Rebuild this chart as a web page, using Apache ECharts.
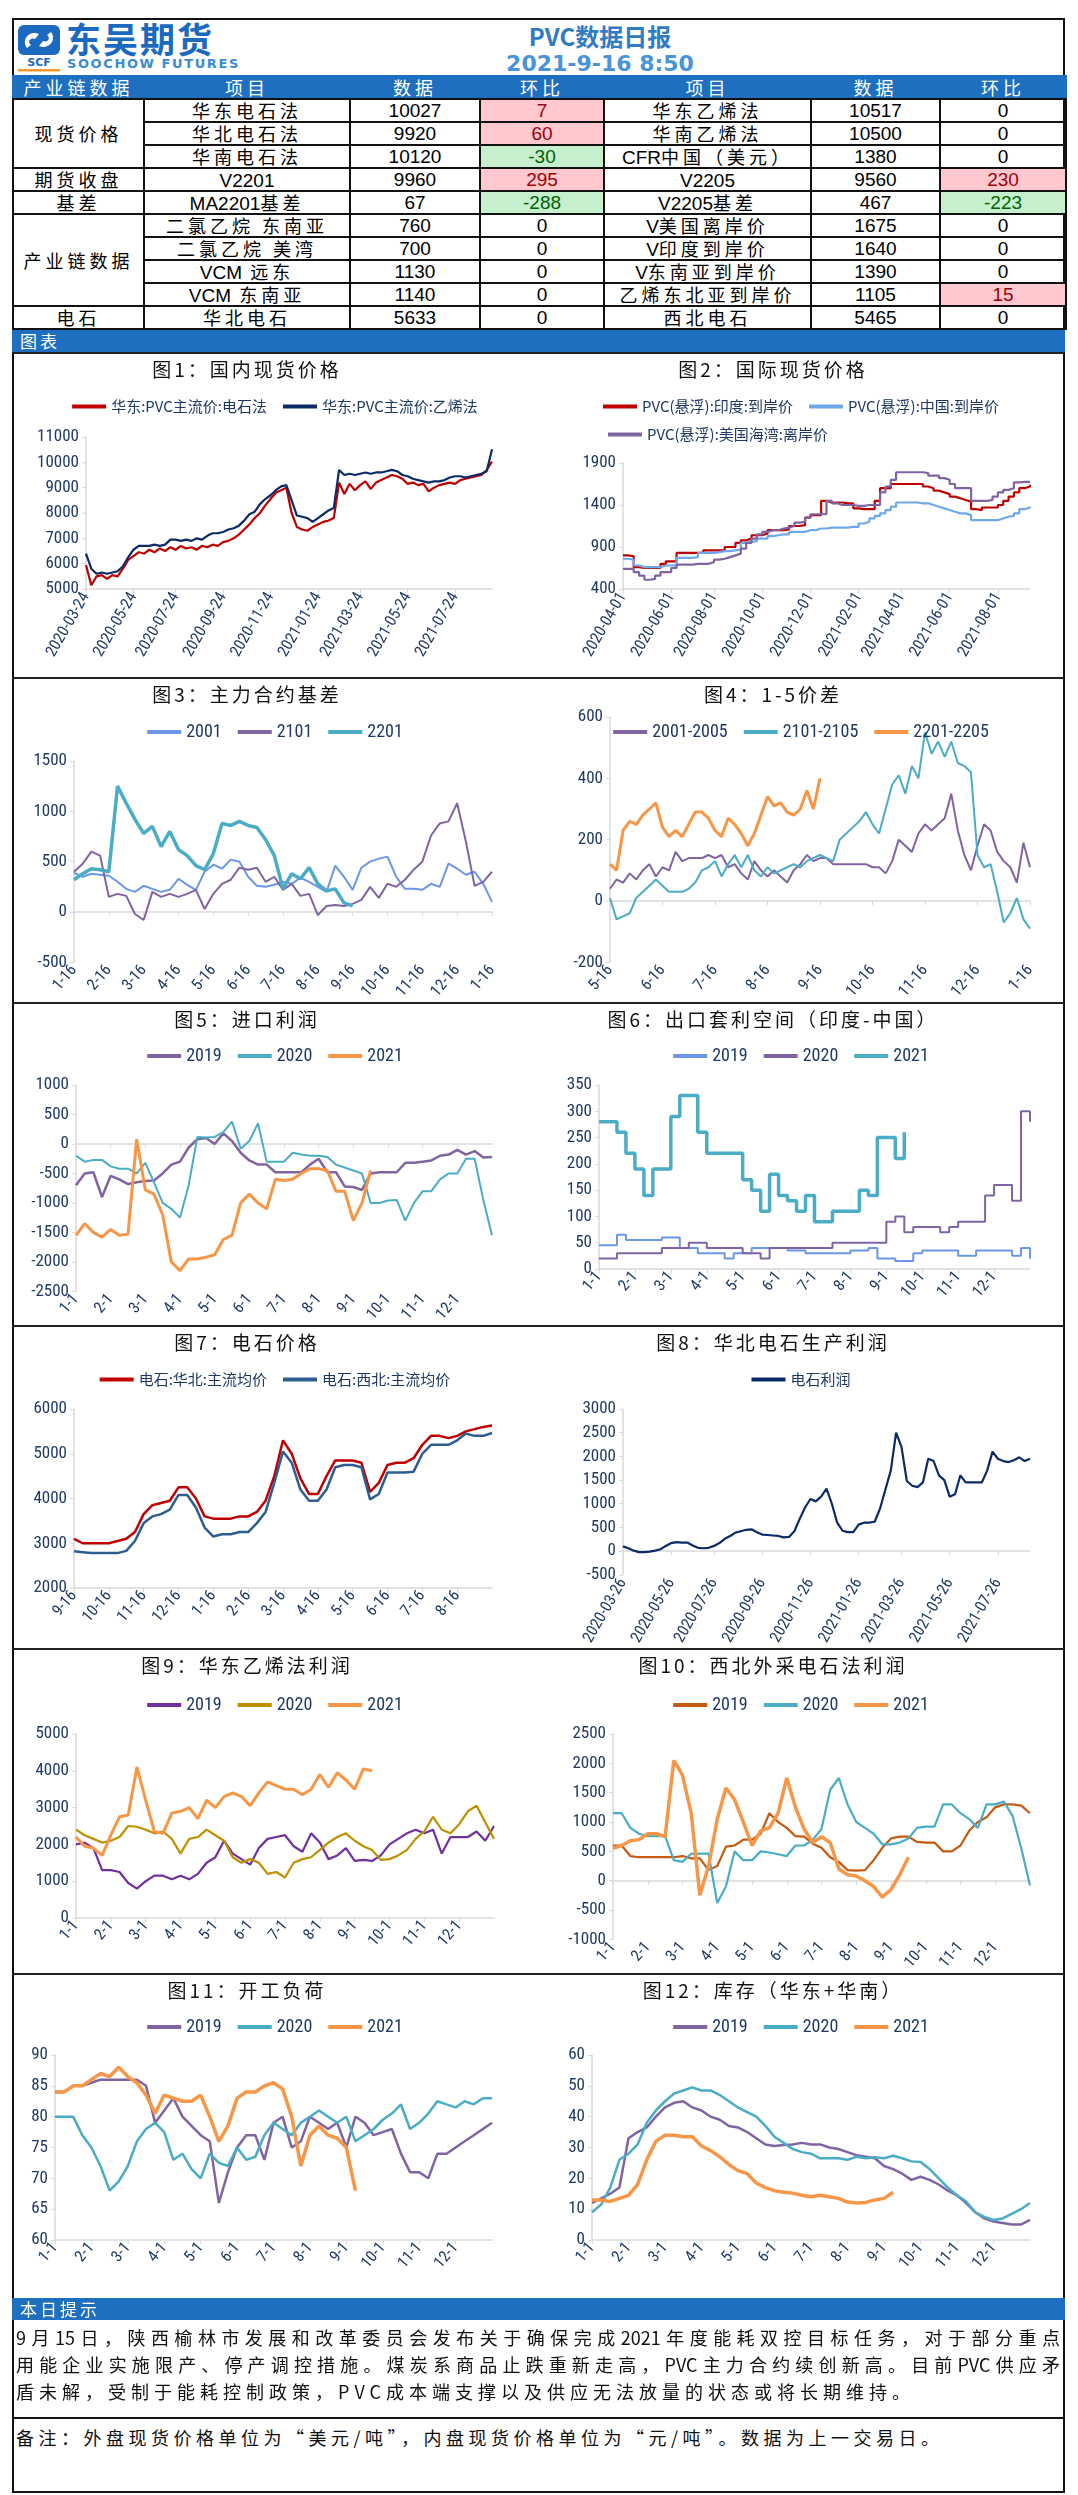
<!DOCTYPE html>
<html>
<head>
<meta charset="UTF-8">
<title>PVC数据日报</title>
<script src="https://cdn.jsdelivr.net/npm/echarts@6/dist/echarts.min.js"></script>
<style>
  body { margin: 0; background: #fff; font-family: 'Noto Sans CJK SC', sans-serif; }
  #page { position: relative; width: 1078px; height: 2495px; overflow: hidden; }
  .abs { position: absolute; }
  #frame { left: 12px; top: 18px; width: 1053px; height: 2475px; border: 2px solid #111; box-sizing: border-box; }
  .bar { background: #1e6fc0; color: #fff; font-size: 17px; letter-spacing: 3px; line-height: 22px; padding-left: 8px; box-sizing: border-box; }
  table.data { border-collapse: collapse; table-layout: fixed; }
  table.data td { border: 2px solid #111; text-align: center; padding: 0; font-size: 18px; line-height: 21px; letter-spacing: 4px; white-space: nowrap; vertical-align: middle; }
  table.data td .c { height: 21px; line-height: 21px; overflow: hidden; }
  table.data td .lat { letter-spacing: 0; font-family: 'Liberation Sans', sans-serif; font-size: 19px; line-height: 1; }
  table.data td.num { font-family: 'Liberation Sans', sans-serif; font-size: 19px; letter-spacing: 0; }
  table.data tr.head td { background: #1e6fc0; color: #fff; border-color: #1e6fc0 #1e6fc0 #111 #1e6fc0; }
  td.up { background: #ffc7ce; color: #9c0006; }
  td.down { background: #c6efce; color: #006100; }
  .panel { border-top: 2px solid #222; box-sizing: border-box; }
  .ptitle { position: absolute; left: 0; width: 470px; top: 2px; text-align: center; font-size: 19px; letter-spacing: 3px; color: #111; line-height: 26px; z-index: 2; }
  .chart { position: absolute; left: 0; top: 0; }
  .note { font-size: 18px; color: #111; }
  .line { text-align: justify; text-align-last: justify; height: 27px; line-height: 27px; }
</style>
</head>
<body>
<div id="page">
  <div id="frame" class="abs"></div>

  <!-- logo -->
  <svg class="abs" style="left:17px;top:24px" width="44" height="48" viewBox="0 0 44 48">
    <rect x="1" y="1" width="42" height="30" rx="6" fill="#1b6ac0"/>
    <path d="M10 24 C4 16 12 6 22 10 L18 15 C13 13 10 18 14 21 Z" fill="#fff"/>
    <path d="M34 8 C40 16 32 26 22 22 L26 17 C31 19 34 14 30 11 Z" fill="#fff"/>
    <text x="22" y="42" text-anchor="middle" font-family="DejaVu Sans" font-weight="bold" font-size="11" fill="#1b6ac0">SCF</text>
    <rect x="1" y="45" width="42" height="2.5" fill="#f39a2b"/>
  </svg>
  <div class="abs" style="left:66px;top:17px;font-size:35px;font-weight:bold;color:#1b6ac0;letter-spacing:2px;line-height:42px">东吴期货</div>
  <div class="abs" style="left:67px;top:56px;font-size:13px;font-weight:bold;color:#3b8ad4;letter-spacing:1.6px;font-family:'DejaVu Sans',sans-serif">SOOCHOW FUTURES</div>
  <div class="abs" style="left:500px;top:21px;width:200px;text-align:center;font-size:24px;font-weight:bold;color:#2f7bc4;line-height:30px">PVC数据日报</div>
  <div class="abs" style="left:500px;top:51px;width:200px;text-align:center;font-size:22px;font-weight:bold;color:#4a93d8;line-height:26px;font-family:'DejaVu Sans',sans-serif">2021-9-16 8:50</div>

  <table id="tbl" class="data abs" style="left:12px;top:75px;width:1053px"></table>
  <div class="abs bar" style="left:12px;top:330px;width:1053px;height:22px">图表</div>

  <div id="panels"></div>

  <div class="abs bar" style="left:12px;top:2298px;width:1053px;height:22px">本日提示</div>
  <div class="abs note" style="left:16px;top:2324px;width:1044px">
    <div class="line">9月15日，陕西榆林市发展和改革委员会发布关于确保完成2021年度能耗双控目标任务，对于部分重点</div>
    <div class="line">用能企业实施限产、停产调控措施。煤炭系商品止跌重新走高，PVC主力合约续创新高。目前PVC供应矛</div>
    <div style="height:27px;line-height:27px;letter-spacing:5px">盾未解，受制于能耗控制政策，PVC成本端支撑以及供应无法放量的状态或将长期维持。</div>
  </div>
  <div class="abs" style="left:12px;top:2417px;width:1053px;border-top:2px solid #111"></div>
  <div class="abs note" style="left:16px;top:2424px;letter-spacing:4.5px;line-height:26px">备注：外盘现货价格单位为“美元/吨”，内盘现货价格单位为“元/吨”。数据为上一交易日。</div>
</div>

<script>
// ---------- table data ----------
var tableHead = ['产业链数据', '项目', '数据', '环比', '项目', '数据', '环比'];
var tableColWidths = [131, 206, 130, 124, 207, 129, 126];
var leftGroups = [['现货价格', 3], ['期货收盘', 1], ['基差', 1], ['产业链数据', 4], ['电石', 1]];
var leftItems = ['华东电石法', '华北电石法', '华南电石法', 'V2201', 'MA2201基差', '二氯乙烷 东南亚', '二氯乙烷 美湾', 'VCM 远东', 'VCM 东南亚', '华北电石'];
var leftValues = [10027, 9920, 10120, 9960, 67, 760, 700, 1130, 1140, 5633];
var leftChanges = [7, 60, -30, 295, -288, 0, 0, 0, 0, 0];
var rightItems = ['华东乙烯法', '华南乙烯法', 'CFR中国（美元）', 'V2205', 'V2205基差', 'V美国离岸价', 'V印度到岸价', 'V东南亚到岸价', '乙烯东北亚到岸价', '西北电石'];
var rightValues = [10517, 10500, 1380, 9560, 467, 1675, 1640, 1390, 1105, 5465];
var rightChanges = [0, 0, 0, 230, -223, 0, 0, 0, 15, 0];

// ---------- chart data ----------
// 图1 国内现货价格 (weekly from 2020-03-24)
var c1Start = '2020-03-24';
var c1Ticks = ['2020-03-24', '2020-05-24', '2020-07-24', '2020-09-24', '2020-11-24', '2021-01-24', '2021-03-24', '2021-05-24', '2021-07-24'];
var c1Carbide = [5950,5150,5500,5550,5400,5550,5500,5800,6150,6300, 6450,6400,6550,6450,6600,6500,6650,6550,6700,6600, 6650,6550,6700,6650,6750,6700,6850,6900,7000,7150, 7350,7550,7800,8000,8300,8550,8800,8900,9000,8000, 7450,7350,7300,7450,7550,7650,7700,7800,9200,8750, 9150,8900,9100,9250,8950,9200,9300,9400,9500,9450, 9350,9150,9200,9100,9150,8850,9000,9100,9150,9200, 9150,9300,9350,9400,9450,9500,9700,10027];
var c1Ethylene = [6400,5800,5600,5650,5600,5650,5700,5900,6250,6550, 6700,6700,6700,6750,6700,6750,6950,6950,6900,6950, 6900,7000,6950,7100,7200,7200,7250,7350,7400,7500, 7700,7950,8050,8350,8550,8700,8900,9050,9100,8500, 7900,7850,7800,7650,7800,7950,8100,8200,9700,9500, 9550,9500,9550,9600,9550,9600,9600,9650,9700,9650, 9500,9450,9350,9300,9250,9200,9250,9250,9300,9400, 9450,9450,9400,9450,9500,9550,9650,10517];

// 图2 国际现货价格 (weekly from 2020-04-01)
var c2Start = '2020-04-01';
var c2Ticks = ['2020-04-01', '2020-06-01', '2020-08-01', '2020-10-01', '2020-12-01', '2021-02-01', '2021-04-01', '2021-06-01', '2021-08-01'];
var c2India = [800,790,660,650,650,650,650,700,730,730, 830,830,830,830,830,860,860,860,860,900, 900,950,980,1000,1040,1040,1060,1100,1100,1100, 1110,1150,1150,1160,1250,1280,1280,1450,1430,1430, 1430,1420,1420,1360,1350,1350,1350,1450,1600,1600, 1650,1650,1650,1650,1650,1650,1620,1600,1570,1550, 1530,1500,1480,1460,1440,1350,1340,1370,1370,1370, 1400,1450,1500,1550,1600,1620,1640];
var c2China = [760,750,680,660,660,660,660,680,680,680, 770,770,770,780,830,830,830,840,850,850, 860,870,950,960,970,1000,1000,1030,1040,1050, 1050,1080,1080,1080,1100,1100,1120,1120,1130,1130, 1130,1130,1140,1140,1180,1200,1240,1270,1300,1340, 1380,1430,1430,1430,1430,1420,1420,1400,1380,1360, 1340,1320,1300,1300,1280,1220,1220,1220,1220,1220, 1240,1260,1270,1300,1350,1370,1380];
var c2UsGulf = [640,640,600,560,510,520,560,600,600,650, 690,690,690,700,700,700,720,750,760,780, 800,820,880,950,1000,1050,1080,1100,1100,1120, 1130,1150,1190,1200,1250,1290,1290,1290,1450,1420, 1400,1400,1400,1390,1390,1400,1400,1400,1550,1620, 1700,1790,1790,1790,1790,1790,1780,1750,1750,1720, 1700,1650,1600,1600,1600,1450,1450,1450,1460,1500, 1550,1580,1600,1670,1675,1675,1675];

// 图3 主力合约基差 (1-16 .. 1-16)
var c3_2001 = [390,350,380,370,360,300,230,200,260,230, 200,220,330,270,220,400,470,430,520,500, 350,260,250,270,300,280,340,300,250,200, 460,350,220,440,500,530,550,350,230,230, 220,280,250,480,430,370,400,280,100];
var c3_2101 = [400,480,600,560,150,180,160,-20,-80,200, 150,180,150,180,220,30,180,280,320,440, 420,440,300,350,220,280,160,180,-30,60, 70,60,80,120,250,140,280,250,320,420, 500,760,880,900,1080,700,260,300,400];
var c3_2201 = [320,380,430,420,400,1250,1080,920,780,850, 650,800,620,560,460,420,580,880,860,900, 860,840,720,560,230,380,330,440,280,210, 230,90,60];

// 图4 1-5价差 (5-16 .. 1-16)
var c4_2001_2005 = [40,70,60,90,70,100,120,80,110,100, 160,130,140,140,140,150,140,150,110,120, 90,70,130,100,80,100,80,60,100,120, 150,130,140,140,120,120,120,120,120,120, 110,110,90,130,200,180,160,220,250,230, 250,270,350,230,150,100,180,250,230,160, 130,110,60,190,110];
var c4_2101_2105 = [10,-60,-50,-40,10,30,50,70,50,30, 30,30,40,60,100,110,130,80,120,150, 110,150,100,80,110,90,100,110,120,110, 130,140,150,140,130,200,220,240,260,290, 250,220,300,380,410,350,440,400,550,480, 520,470,520,450,440,420,150,110,120,30, -70,-40,10,-60,-90];
var c4_2201_2205 = [120,100,230,260,250,280,300,320,240,210, 230,210,250,290,290,270,230,210,270,250, 220,180,220,280,340,310,320,290,280,300, 360,300,400];

// 图5 进口利润
var c5_2019 = [-700,-500,-480,-900,-540,-600,-680,-650,-630,-620, -500,-350,-300,-60,80,100,0,180,50,-150, -280,-350,-350,-480,-480,-480,-480,-350,-250,-480, -480,-720,-730,-780,-500,-480,-480,-480,-320,-320, -300,-280,-200,-180,-100,-180,-120,-230,-220];
var c5_2020 = [-200,-300,-270,-270,-380,-420,-420,-500,-320,-650, -1000,-1100,-1250,-700,120,110,120,200,380,-80, 50,350,-300,-300,-300,-150,-180,-200,-200,-220, -350,-400,-450,-500,-1000,-1000,-960,-950,-1300,-1000, -800,-800,-600,-500,-500,-250,-250,-950,-1550];
var c5_2021 = [-1550,-1350,-1500,-1580,-1450,-1550,-1530,80,-780,-850, -1200,-2000,-2150,-1950,-1950,-1920,-1880,-1620,-1550,-1000, -850,-1000,-1100,-600,-620,-600,-500,-420,-420,-450, -800,-800,-1300,-1000,-450];

// 图6 出口套利空间
var c6_2019 = [45,45,65,55,55,55,55,60,60,40, 40,30,30,30,20,30,30,40,40,40, 40,35,35,30,30,30,30,30,35,35, 40,20,20,15,15,30,35,35,35,35, 25,25,35,35,35,35,25,40,20];
var c6_2020 = [20,20,30,30,30,30,30,40,40,40, 50,50,40,40,40,40,30,30,20,40, 40,40,40,40,40,40,50,50,50,50, 50,50,90,100,70,80,80,80,70,80, 90,90,90,140,160,160,130,300,280];
var c6_2021 = [280,280,260,220,190,140,190,190,290,330, 330,260,220,220,220,220,170,150,110,180, 140,130,110,140,90,90,110,110,110,150, 140,250,250,210,260];

// 图7 电石价格 (9-16 .. 9-15)
var c7North = [3100,3000,3000,3000,3000,3050,3100,3250,3650,3850, 3900,3950,4250,4250,4000,3600,3550,3550,3550,3600, 3600,3700,3950,4500,5300,5000,4450,4100,4100,4500, 4850,4850,4850,4800,4150,4350,4750,4800,4800,4900, 5200,5400,5400,5350,5400,5500,5550,5600,5633];
var c7Northwest = [2820,2800,2780,2780,2780,2780,2830,3050,3450,3600, 3650,3750,4080,4080,3800,3350,3150,3200,3200,3250, 3250,3450,3700,4350,5050,4800,4200,3950,3950,4200, 4700,4750,4750,4700,3980,4100,4580,4580,4580,4600, 5000,5200,5200,5200,5300,5450,5400,5400,5465];

// 图8 华北电石生产利润 (weekly from 2020-03-26)
var c8Start = '2020-03-26';
var c8Ticks = ['2020-03-26', '2020-05-26', '2020-07-26', '2020-09-26', '2020-11-26', '2021-01-26', '2021-03-26', '2021-05-26', '2021-07-26'];
var c8Profit = [100,60,10,-20,-20,-10,10,40,110,170, 190,180,180,120,70,60,70,110,170,260, 320,390,420,450,460,400,350,340,330,320, 290,300,420,680,920,1100,1050,1150,1320,1000, 600,430,400,400,560,600,600,620,900,1300, 1700,2500,2200,1480,1380,1350,1450,1950,1900,1600, 1500,1150,1200,1600,1450,1450,1450,1450,1700,2100, 1950,1900,1880,1920,1980,1900,1950];

// 图9 华东乙烯法利润
var c9_2019 = [2000,2050,1900,1300,1300,1250,950,800,1000,1150, 1150,1050,1150,1050,1200,1500,1650,2100,1750,1600, 1450,1900,2150,2200,2250,1950,1800,2300,2050,1600, 1700,1900,1550,1580,1550,1700,2000,2150,2300,2400, 2300,2400,1750,2200,2200,2200,2350,2100,2500];
var c9_2020 = [2400,2250,2150,2050,2100,2200,2500,2480,2400,2300, 2350,2150,1750,2150,2200,2400,2250,2100,1650,1500, 1600,1500,1200,1250,1100,1500,1600,1650,1850,2050, 2200,2300,2100,1950,1850,1580,1600,1700,1850,2150, 2350,2750,2400,2300,2550,2900,3050,2600,2150];
var c9_2021 = [2200,1950,1900,1700,2250,2750,2800,4100,3200,2350, 2300,2850,2900,3000,2700,3200,3000,3300,3400,3300, 3050,3400,3700,3600,3500,3500,3350,3500,3900,3550, 3950,3750,3500,4050,4000];

// 图10 西北外采电石法利润
var c10_2019 = [600,600,420,400,400,400,400,400,420,380, 380,180,250,580,600,700,700,800,1150,1000, 900,760,750,630,560,400,320,180,170,180, 350,560,720,750,750,660,650,650,500,500, 600,850,1000,1080,1250,1300,1300,1280,1150];
var c10_2020 = [1150,1150,900,800,760,760,760,350,320,460, 460,460,-380,-100,500,350,350,500,480,450, 420,600,600,700,880,1550,1750,1300,1000,900, 800,620,620,650,720,900,920,920,1300,1300, 1150,1050,900,1300,1300,1350,1100,550,-80];
var c10_2021 = [550,600,680,700,800,800,750,2050,1800,1150, -250,250,1050,1580,1380,1000,600,850,900,1150, 1750,1250,880,650,750,650,200,100,80,0, -100,-280,-150,100,400];

// 图11 开工负荷
var c11_2019 = [84,84,85,85,85.5,86,86,86,86,86, 85,79,81,83,80,78.5,77,76,66,71, 75,77,77,73,79,80,75,76,80,79, 78,79,75,80,79,77,77.5,78,74,71, 71,70,74,74,75,76,77,78,79];
var c11_2020 = [80,80,80,77,75,72,68,69.5,72,76, 78,79,77.5,73,74,71.5,70,74,72.5,72, 75,73,73.5,77,79,78,77,79,80,81, 80,79,80,76,77,78,79.5,80.5,82,78, 79,80.5,82.5,82,81.5,82.5,82,83,83];
var c11_2021 = [84,84,85,85,86,87,86.5,88,86.5,85.5, 83.5,80.5,83.5,83,82.5,82.5,83.5,80,76,78.5, 83,84,84,85,85.5,84.5,80,72,77,78.5, 77,76.5,75,68];

// 图12 库存（华东+华南）
var c12_2019 = [12,13.5,15,17,33,35,36.5,40,43,44.5, 45,43,42,40,39,37,36.5,35,33,31, 30.5,30.8,31,31.5,31,31,30,29.5,28.5,27.5, 27,26.5,24,23,21.5,19.5,20.5,19.5,18,16, 14.5,12,9,7,6,5.5,5,5,6.5];
var c12_2020 = [9,11.5,17,26,28,31,38,42,45,47.5, 48.5,49.5,48.5,48.5,47,45,43,41.5,40,37, 33.5,31.5,29.5,28.5,28,26.5,26.5,26.5,26,27, 26.5,26.8,26.5,27.3,26.5,25.5,25.3,23,20,17, 14.5,12.5,9,7.5,6.5,7,8.5,10,12];
var c12_2021 = [13,13,12.5,13.5,14.5,18,26,32,34,34, 33.5,33.5,30.5,29,27,24.5,22.5,21.5,18.5,17, 16,15.5,15.2,14.5,14,14.5,14,13.5,12.3,12, 12.2,13,13.5,15.5];

// ---------- table ----------
(function buildTable() {
  var tbl = document.getElementById('tbl');
  function txt(s) { return s.replace(/[A-Za-z0-9]+/g, function (m) { return '<span class="lat">' + m + '</span>'; }); }
  function cell(content, cls, span) {
    return '<td' + (cls ? ' class="' + cls + '"' : '') + (span ? ' rowspan="' + span + '"' : '') + '><div class="c">' + content + '</div></td>';
  }
  function chg(v) { return cell(v, v > 0 ? 'num up' : (v < 0 ? 'num down' : 'num')); }
  var html = '<colgroup>' + tableColWidths.map(function (w) { return '<col style="width:' + w + 'px">'; }).join('') + '</colgroup>';
  html += '<tr class="head">' + tableHead.map(function (h) { return cell(h); }).join('') + '</tr>';
  var row = 0;
  leftGroups.forEach(function (g) {
    for (var k = 0; k < g[1]; k++) {
      html += '<tr>';
      if (k === 0) html += cell(g[0], '', g[1]);
      html += cell(txt(leftItems[row])) + cell(leftValues[row], 'num') + chg(leftChanges[row]);
      html += cell(txt(rightItems[row])) + cell(rightValues[row], 'num') + chg(rightChanges[row]);
      html += '</tr>';
      row++;
    }
  });
  tbl.innerHTML = html;
})();

// ---------- helpers ----------
var NAVY = '#1f3864';
var AXIS_GRAY = '#d9d9d9';
var NUM_FONT = "'Roboto Condensed','Open Sans Condensed','Liberation Sans',sans-serif";
var CJK_FONT = "'Noto Sans CJK SC',sans-serif";
var PURPLE = '#8064a2', TEAL = '#4bacc6', ORANGE = '#f79646', CORN = '#6c96e6';

function weekly(start, n) {
  var t0 = Date.parse(start + 'T00:00:00Z'), out = [];
  for (var i = 0; i < n; i++) out.push(new Date(t0 + i * 7 * 864e5).toISOString().slice(0, 10));
  return out;
}
function tickMap(start, cats, ticks) {
  var t0 = Date.parse(start + 'T00:00:00Z'), map = {};
  ticks.forEach(function (t) {
    var i = Math.round((Date.parse(t + 'T00:00:00Z') - t0) / (7 * 864e5));
    map[cats[i]] = t;
  });
  return map;
}
function seasonCats(startM, slots, months, last) {
  var out = [];
  for (var k = 0; k < months; k++) {
    slots.forEach(function (s) { out.push(((startM - 1 + k + s[0]) % 12 + 1) + '-' + s[1]); });
  }
  out.push(last);
  return out;
}
var SLOTS_1 = [[0, 1], [0, 8], [0, 16], [0, 24]];
var SLOTS_16 = [[0, 16], [0, 24], [1, 1], [1, 8]];

var rowTops = [352, 677, 1002, 1325, 1648, 1973, 2298];

function legendCfg(top, cjk, extra) {
  var l = {
    top: top, left: 'center', icon: 'rect', itemWidth: 34, itemHeight: 4, itemGap: 16,
    textStyle: { color: NAVY, fontSize: cjk ? 15 : 18, fontFamily: cjk ? CJK_FONT : NUM_FONT }
  };
  for (var k in extra) l[k] = extra[k];
  return l;
}

function makePanel(p) {
  var wrap = document.createElement('div');
  var top = rowTops[p.row], h = rowTops[p.row + 1] - top;
  wrap.className = 'abs panel';
  wrap.style.cssText = 'left:' + (p.side ? 538 : 12) + 'px;top:' + top + 'px;width:526px;height:' + h + 'px';
  var t = document.createElement('div');
  t.className = 'ptitle';
  t.textContent = p.title;
  var c = document.createElement('div');
  c.className = 'chart';
  c.style.width = '526px';
  c.style.height = (h - 2) + 'px';
  wrap.appendChild(c);
  wrap.appendChild(t);
  document.getElementById('panels').appendChild(wrap);

  var cats = p.cats;
  var showFn, fmt;
  if (p.ticks) {
    showFn = function (i, v) { return p.ticks[v] !== undefined; };
    fmt = function (v) { return p.ticks[v] || ''; };
  } else {
    showFn = function (i, v) { return v.split('-')[1] === p.labelDay; };
    fmt = function (v) { return v; };
  }
  var chart = echarts.init(c);
  chart.setOption({
    animation: false,
    grid: { left: p.grid[0], top: p.grid[1], right: p.grid[2], height: p.grid[3] },
    legend: p.legend,
    xAxis: {
      type: 'category', data: cats, boundaryGap: false,
      axisLine: { lineStyle: { color: AXIS_GRAY, width: 1.5 } },
      axisTick: { show: true, interval: showFn, length: 4, lineStyle: { color: AXIS_GRAY } },
      axisLabel: { interval: showFn, formatter: fmt, rotate: p.rotate || 50, color: NAVY, fontSize: 16, fontFamily: NUM_FONT, margin: 5 }
    },
    yAxis: {
      type: 'value', min: p.y[0], max: p.y[1], interval: p.y[2],
      splitLine: { show: false },
      axisLine: { show: true, lineStyle: { color: AXIS_GRAY, width: 1.5 } },
      axisTick: { show: true, length: 4, lineStyle: { color: AXIS_GRAY } },
      axisLabel: { color: NAVY, fontSize: 17, fontFamily: NUM_FONT, margin: 7, formatter: function (v) { return String(v); } }
    },
    series: p.series.map(function (s) {
      return {
        type: 'line', name: s[0], data: s[1], showSymbol: false, symbol: 'none',
        step: p.step ? 'end' : false,
        lineStyle: { color: s[2], width: s[3] || 2 }, itemStyle: { color: s[2] }
      };
    })
  });
}

var c1Cats = weekly(c1Start, c1Carbide.length);
var c2Cats = weekly(c2Start, c2India.length);
var c8Cats = weekly(c8Start, c8Profit.length);
var catsJan = seasonCats(1, SLOTS_1, 12, '12-31');

var panels = [
  { row: 0, side: 0, title: '图1：国内现货价格', cats: c1Cats, ticks: tickMap(c1Start, c1Cats, c1Ticks), rotate: 60,
    grid: [74, 83, 46, 152], y: [5000, 11000, 1000],
    legend: legendCfg(40, true),
    series: [['华东:PVC主流价:电石法', c1Carbide, '#c00000', 2.2], ['华东:PVC主流价:乙烯法', c1Ethylene, '#0b2a66', 2.2]] },
  { row: 0, side: 1, title: '图2：国际现货价格', cats: c2Cats, ticks: tickMap(c2Start, c2Cats, c2Ticks), rotate: 60, step: true,
    grid: [85, 109, 34, 126], y: [400, 1900, 500],
    legend: [legendCfg(40, true, { data: ['PVC(悬浮):印度:到岸价', 'PVC(悬浮):中国:到岸价'] }),
             legendCfg(68, true, { data: ['PVC(悬浮):美国海湾:离岸价'], left: 65 })],
    series: [['PVC(悬浮):印度:到岸价', c2India, '#c00000', 2.2], ['PVC(悬浮):中国:到岸价', c2China, '#6fa8e8', 2.2], ['PVC(悬浮):美国海湾:离岸价', c2UsGulf, PURPLE, 2.2]] },
  { row: 1, side: 0, title: '图3：主力合约基差', cats: seasonCats(1, SLOTS_16, 12, '1-16'), labelDay: '16',
    grid: [62, 82, 46, 220], y: [-500, 1500, 500],
    legend: legendCfg(39, false),
    series: [['2001', c3_2001, CORN, 2], ['2101', c3_2101, PURPLE, 2], ['2201', c3_2201, TEAL, 3.5]] },
  { row: 1, side: 1, title: '图4：1-5价差', cats: seasonCats(5, [[0, 16], [0, 20], [0, 24], [0, 28], [1, 1], [1, 4], [1, 8], [1, 12]], 8, '1-16'), labelDay: '16',
    grid: [72, 38, 34, 264], y: [-200, 600, 200],
    legend: legendCfg(39, false),
    series: [['2001-2005', c4_2001_2005, PURPLE, 2], ['2101-2105', c4_2101_2105, TEAL, 2], ['2201-2205', c4_2201_2205, ORANGE, 3]] },
  { row: 2, side: 0, title: '图5：进口利润', cats: catsJan, labelDay: '1',
    grid: [64, 81, 46, 220], y: [-2500, 1000, 500],
    legend: legendCfg(38, false),
    series: [['2019', c5_2019, PURPLE, 2.5], ['2020', c5_2020, TEAL, 2], ['2021', c5_2021, ORANGE, 3]] },
  { row: 2, side: 1, title: '图6：出口套利空间（印度-中国）', cats: catsJan, labelDay: '1', step: true,
    grid: [61, 81, 34, 184], y: [0, 350, 50],
    legend: legendCfg(38, false),
    series: [['2019', c6_2019, CORN, 2], ['2020', c6_2020, PURPLE, 2], ['2021', c6_2021, TEAL, 3.5]] },
  { row: 3, side: 0, title: '图7：电石价格', cats: seasonCats(9, SLOTS_16, 12, '9-15'), labelDay: '16',
    grid: [62, 82, 46, 179], y: [2000, 6000, 1000],
    legend: legendCfg(40, true),
    series: [['电石:华北:主流均价', c7North, '#c00000', 2.5], ['电石:西北:主流均价', c7Northwest, '#2e5d8f', 2.5]] },
  { row: 3, side: 1, title: '图8：华北电石生产利润', cats: c8Cats, ticks: tickMap(c8Start, c8Cats, c8Ticks), rotate: 60,
    grid: [85, 82, 34, 179], y: [-500, 3000, 500],
    legend: legendCfg(40, true),
    series: [['电石利润', c8Profit, '#0b2a66', 2.2]] },
  { row: 4, side: 0, title: '图9：华东乙烯法利润', cats: catsJan, labelDay: '1',
    grid: [64, 84, 44, 184], y: [0, 5000, 1000],
    legend: legendCfg(41, false),
    series: [['2019', c9_2019, '#7030a0', 2.2], ['2020', c9_2020, '#bf9000', 2.2], ['2021', c9_2021, ORANGE, 3]] },
  { row: 4, side: 1, title: '图10：西北外采电石法利润', cats: catsJan, labelDay: '1',
    grid: [75, 84, 34, 220], y: [-1000, 2500, 500],
    legend: legendCfg(41, false),
    series: [['2019', c10_2019, '#c55a11', 2.2], ['2020', c10_2020, TEAL, 2.2], ['2021', c10_2021, ORANGE, 3.5]] },
  { row: 5, side: 0, title: '图11：开工负荷', cats: catsJan, labelDay: '1',
    grid: [43, 80, 46, 185], y: [60, 90, 5],
    legend: legendCfg(38, false),
    series: [['2019', c11_2019, PURPLE, 2.5], ['2020', c11_2020, TEAL, 2.5], ['2021', c11_2021, ORANGE, 3.5]] },
  { row: 5, side: 1, title: '图12：库存（华东+华南）', cats: catsJan, labelDay: '1',
    grid: [54, 80, 34, 185], y: [0, 60, 10],
    legend: legendCfg(38, false),
    series: [['2019', c12_2019, PURPLE, 2.5], ['2020', c12_2020, TEAL, 2.5], ['2021', c12_2021, ORANGE, 3.5]] }
];

panels.forEach(makePanel);
</script>
</body>
</html>
